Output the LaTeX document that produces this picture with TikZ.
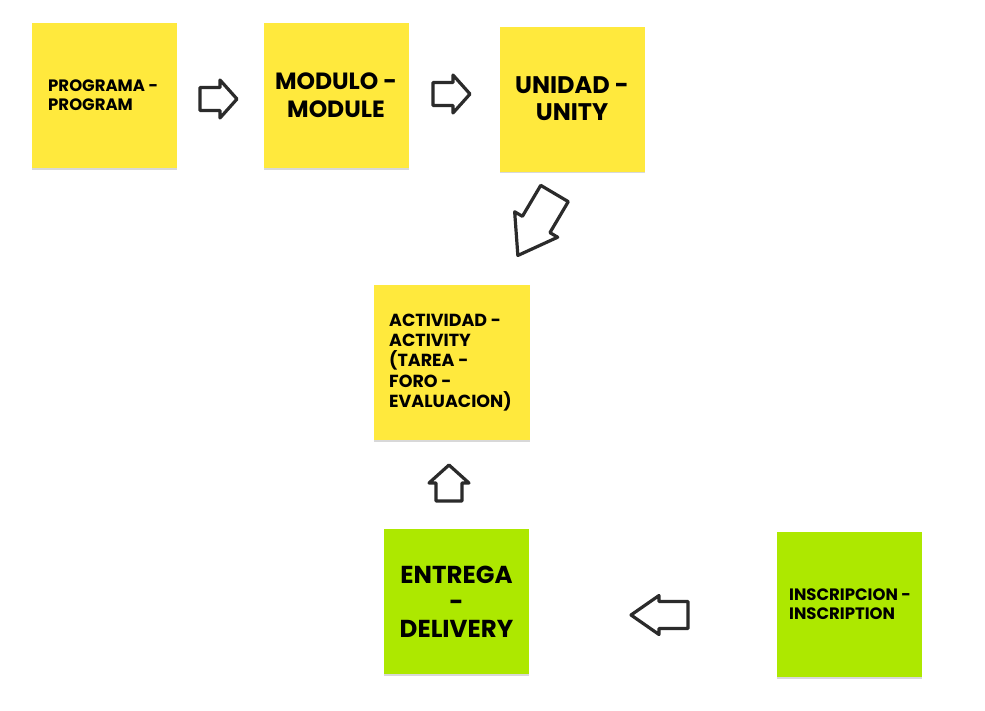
\documentclass[tikz,border=0pt]{standalone}
\usepackage{fontspec}
\setmainfont{Poppins}
\usetikzlibrary{shadows}
\definecolor{sticky}{HTML}{FFE93D}
\definecolor{limegreen}{HTML}{ADE800}
\definecolor{ink}{HTML}{2B2B2B}
\tikzset{
  note/.style={rectangle, minimum width=145pt, minimum height=145pt, inner sep=0pt,
    drop shadow={shadow xshift=0pt, shadow yshift=-1.5pt, opacity=0.25, fill=black!60}},
  ynote/.style={note, fill=sticky},
  gnote/.style={note, fill=limegreen},
  bigtxt/.style={font=\fontsize{23.5}{28}\selectfont\bfseries, align=center, text=black},
  smalltxt/.style={font=\fontsize{16.5}{19}\selectfont\bfseries, align=left, text=black, inner sep=0pt, anchor=west},
  arrowline/.style={draw=ink, line width=3.2pt, line join=round, fill=white},
  pics/blockarrow/.style args={#1/#2/#3/#4}{code={
    \path[arrowline] (0,-#3) -- (#2,-#3) -- (#2,-#4) -- (#1,0) -- (#2,#4) -- (#2,#3) -- (0,#3) -- cycle;
  }}
}
\begin{document}
\begin{tikzpicture}[x=1pt, y=-1pt]
\useasboundingbox[fill=white] (0,0) rectangle (985,710);

% sticky notes
\node[ynote] (prog) at (104.5,95.5) {};
\node[smalltxt] (progt) at (48,95.5) {PROGRAMA -\\PROGRAM};

\node[ynote, bigtxt] (mod) at (336,95.5) {MODULO -\\MODULE};

\node[ynote, bigtxt, font=\fontsize{24}{27}\selectfont\bfseries] (uni) at (572,99) {UNIDAD -\\UNITY};

\node[ynote, minimum width=156pt, minimum height=155pt] (act) at (452,362.5) {};
\node[smalltxt, font=\fontsize{17.5}{20.3}\selectfont\bfseries] (actt) at (389,362.5)
  {ACTIVIDAD -\\ACTIVITY\\(TAREA -\\FORO -\\EVALUACION)};

\node[gnote, bigtxt, font=\fontsize{24.5}{27}\selectfont\bfseries] (ent) at (456.5,601.5) {ENTREGA\\-\\DELIVERY};

\node[gnote] (ins) at (849.5,604.5) {};
\node[smalltxt] (inst) at (789,604.5) {INSCRIPCION -\\INSCRIPTION};

% block arrows
\pic (a1) at (200,99) {blockarrow=37/20/11.5/19};
\pic (a2) at (433,94) {blockarrow=37/20/11.5/19};
\pic[rotate=-120.6] (a3) at (554.5,193.5) {blockarrow=72/36/16/25};
\pic[rotate=90] (a4) at (449,501) {blockarrow=36/18/13/20};
\pic[rotate=180] (a5) at (688,615) {blockarrow=57/29/13.5/19.5};
\end{tikzpicture}
\end{document}
